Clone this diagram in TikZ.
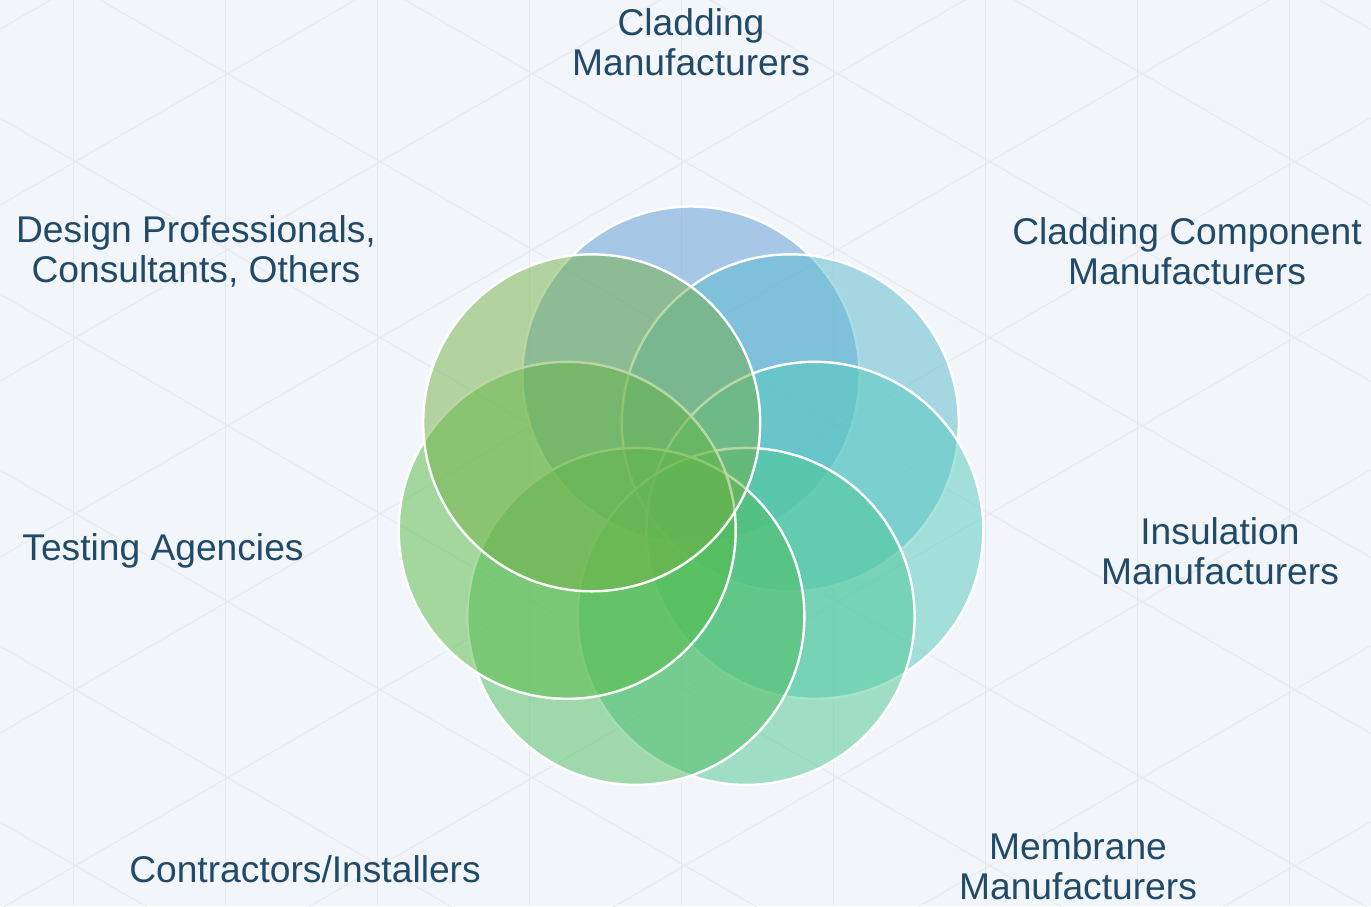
\documentclass[tikz,border=0pt]{standalone}
\usepackage{fontspec}
\setmainfont{Liberation Sans}

\definecolor{paper}{HTML}{F2F5F9}
\definecolor{latticeline}{HTML}{E7EAEF}
\definecolor{labelink}{HTML}{214A68}
\definecolor{claddingblue}{HTML}{5D9AD6}
\definecolor{componentblue}{HTML}{59BACE}
\definecolor{insulationteal}{HTML}{53CABC}
\definecolor{membraneteal}{HTML}{4DC892}
\definecolor{contractorgreen}{HTML}{4DBC5C}
\definecolor{testinggreen}{HTML}{55BA42}
\definecolor{designgreen}{HTML}{73B046}

\tikzset{
  ring/.style={circle, draw=white, line width=1.2pt, minimum size=168.5pt,
    inner sep=0pt, fill opacity=0.5, draw opacity=1},
  party/.style={text=labelink, align=center, inner sep=0pt,
    font=\fontsize{18.6}{20}\selectfont},
}

\begin{document}
\begin{tikzpicture}[x=0.5pt,y=-0.5pt]
    \useasboundingbox (0,0) rectangle (1371,906);

    % Background with faint lattice
    \fill[paper] (0,0) rectangle (1371,906);
    \begin{scope}
        \clip (0,0) rectangle (1371,906);
        \foreach \xv in {73,225,...,1371}
            \draw[latticeline,line width=0.5pt] (\xv,0) -- (\xv,906);
        \foreach \k in {-2,...,10}
            \draw[latticeline,line width=0.5pt] (0,205.1+176*\k) -- (1371,205.1+176*\k-791.6);
        \foreach \k in {-5,...,7}
            \draw[latticeline,line width=0.5pt] (0,-57.9+176*\k) -- (1371,-57.9+176*\k+791.6);
    \end{scope}

    % Seven overlapping circles
    \node[ring,fill=claddingblue]    (cladding)    at (691,375)     {};
    \node[ring,fill=componentblue]   (component)   at (790.3,422.8) {};
    \node[ring,fill=insulationteal]  (insulation)  at (814.8,530.3) {};
    \node[ring,fill=membraneteal]    (membrane)    at (746.1,616.4) {};
    \node[ring,fill=contractorgreen] (contractors) at (635.9,616.4) {};
    \node[ring,fill=testinggreen]    (testing)     at (567.2,530.3) {};
    \node[ring,fill=designgreen]     (design)      at (591.7,422.8) {};

    % Labels
    \node[party] (claddinglabel)    at (691,42)   {Cladding\\Manufacturers};
    \node[party] (componentlabel)   at (1187,251) {Cladding Component\\Manufacturers};
    \node[party] (insulationlabel)  at (1220,551) {Insulation\\Manufacturers};
    \node[party] (membranelabel)    at (1078,866) {Membrane\\Manufacturers};
    \node[party] (contractorslabel) at (305,869)  {Contractors/Installers};
    \node[party] (testinglabel)     at (163,551)  {Testing Agencies};
    \node[party] (designlabel)      at (196,251)  {Design Professionals,\\Consultants, Others};
\end{tikzpicture}
\end{document}
